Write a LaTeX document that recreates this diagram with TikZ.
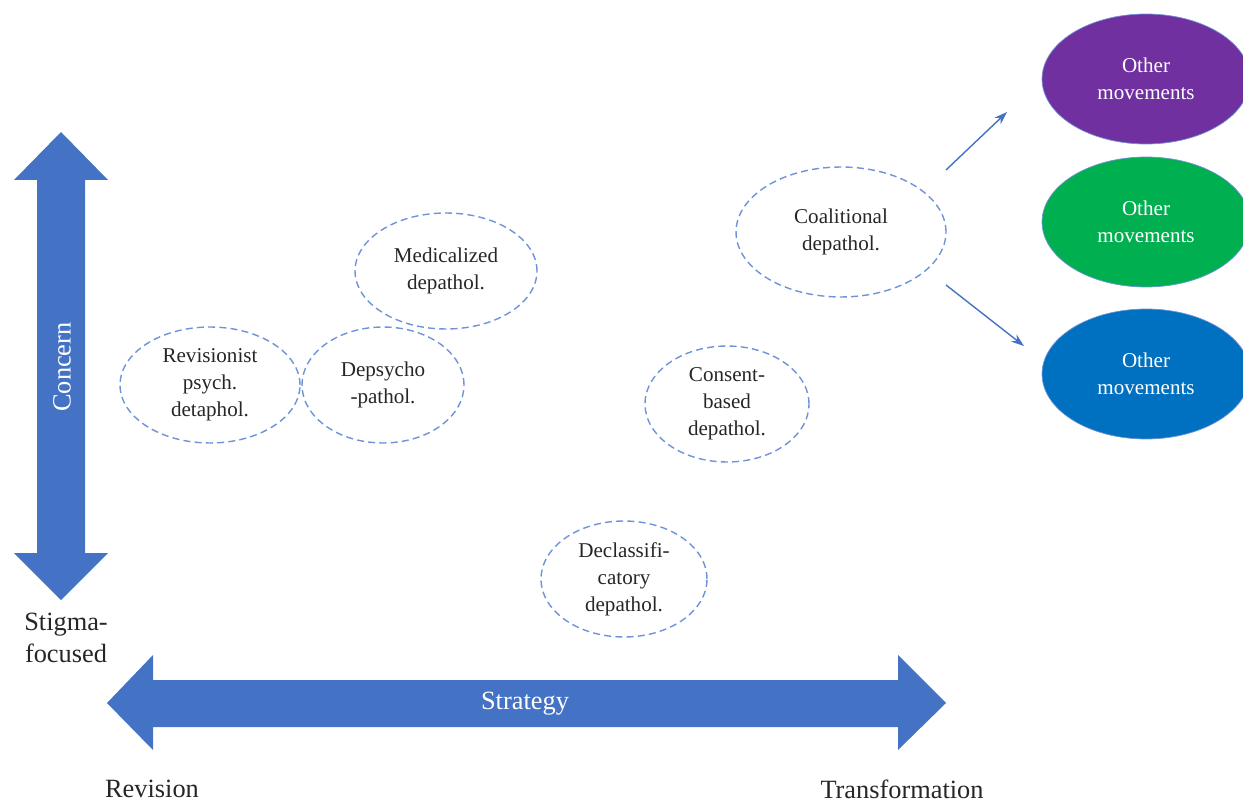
\documentclass[tikz,border=0pt]{standalone}
\usepackage{fontspec}
\setmainfont{Liberation Serif}
\usepackage{tikz}
\usetikzlibrary{shapes.geometric, arrows.meta, positioning, calc}
\definecolor{axisblue}{HTML}{4472C4}
\definecolor{dashblue}{HTML}{6F93D8}
\definecolor{movpurple}{HTML}{7030A0}
\definecolor{movgreen}{HTML}{00B050}
\definecolor{movblue}{HTML}{0070C0}
\definecolor{inktext}{HTML}{262626}
\tikzset{
	depathol/.style={ellipse, draw=dashblue, line width=0.8pt, dash pattern=on 4pt off 2.4pt, align=center, text=inktext, font=\fontsize{12}{15.3}\selectfont, inner sep=0pt},
	movement/.style={ellipse, draw=dashblue, line width=0.4pt, align=center, text=white, font=\fontsize{12}{15.3}\selectfont, minimum width=4.16cm, minimum height=2.6cm},
	axislabel/.style={font=\fontsize{15}{18}\selectfont, text=inktext, align=center, inner sep=1pt},
	line/.style={draw=axisblue, line width=0.8pt, -{Stealth[length=2.6mm, width=1.8mm]}}
}

\begin{document}
\begin{tikzpicture}[x=0.02cm, y=-0.02cm]
	\useasboundingbox (0,0) rectangle (1243,803);
	
	% Concern axis (vertical)
	\fill[axisblue] (61,132) -- (108,180) -- (85,180) -- (85,553) -- (108,553) -- (61,600)
		-- (14,553) -- (37,553) -- (37,180) -- (14,180) -- cycle;
	\node[axislabel, text=white, rotate=90] (concern) at (62,367) {Concern};
	\node[axislabel] (stigma) at (66,638) {Stigma-\\focused};
	
	% Strategy axis (horizontal)
	\fill[axisblue] (107,703) -- (153,655) -- (153,680) -- (898,680) -- (898,655) -- (946,703)
		-- (898,750) -- (898,727) -- (153,727) -- (153,750) -- cycle;
	\node[axislabel, text=white] (strategy) at (525,704) {Strategy};
	\node[axislabel] (revision) at (152,789) {Revision};
	\node[axislabel] (transformation) at (902,789) {Transformation};
	
	% depathologization types
	\node[depathol, minimum width=3.6cm, minimum height=2.32cm] (revisionist) at (210,385) {Revisionist\\psych.\\detaphol.};
	\node[depathol, minimum width=3.24cm, minimum height=2.32cm] (depsycho) at (383,385) {Depsycho\\-pathol.};
	\node[depathol, minimum width=3.64cm, minimum height=2.32cm] (medicalized) at (446,271) {Medicalized\\depathol.};
	\node[depathol, minimum width=3.28cm, minimum height=2.32cm] (consent) at (727,404) {Consent-\\based\\depathol.};
	\node[depathol, minimum width=3.32cm, minimum height=2.32cm] (declassificatory) at (624,579) {Declassifi-\\catory\\depathol.};
	\node[depathol, minimum width=4.2cm, minimum height=2.6cm] (coalitional) at (841,232) {Coalitional\\depathol.};
	
	% other movements
	\node[movement, fill=movpurple] (movement_1) at (1146,79) {Other\\movements};
	\node[movement, fill=movgreen] (movement_2) at (1146,222) {Other\\movements};
	\node[movement, fill=movblue] (movement_3) at (1146,374) {Other\\movements};
	
	% links from coalitional depathol.
	\coordinate (link_up) at (1007,112);
	\coordinate (link_down) at (1024,346);
	\draw[line] ($(coalitional.center)+(105,-62)$) -- (link_up);
	\draw[line] ($(coalitional.center)+(105,53)$) -- (link_down);
	
\end{tikzpicture}
\end{document}
